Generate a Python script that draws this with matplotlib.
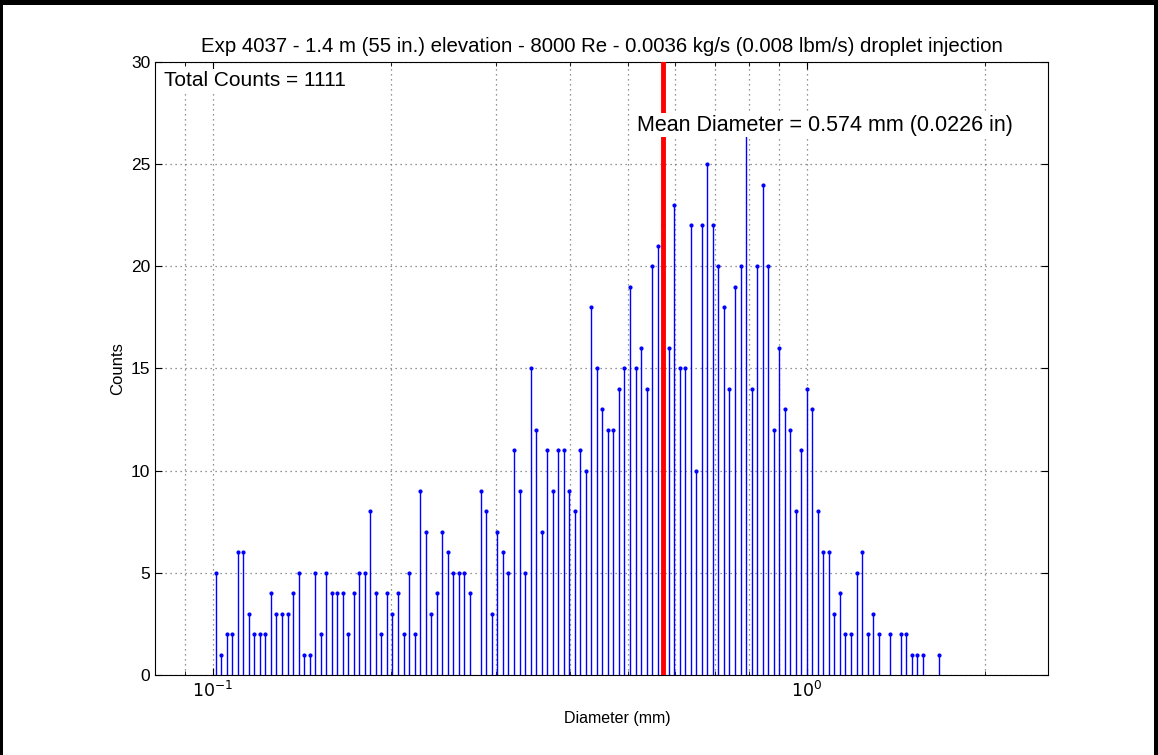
import numpy as np
import matplotlib
matplotlib.use('Agg')
import matplotlib.pyplot as plt
from matplotlib.patches import Rectangle
from matplotlib.ticker import FixedLocator, NullFormatter

plt.rcParams['font.family'] = ['Liberation Sans', 'DejaVu Sans']

# Droplet counts per (log spaced) diameter bin
counts = [
    5, 1, 2, 2, 6, 6, 3, 2, 2, 2, 4, 3, 3, 3, 4, 5, 1, 1, 5, 2, 5, 4, 4, 4, 2, 4, 5, 5,
    8, 4, 2, 4, 3, 4, 2, 5, 2, 9, 7, 3, 4, 7, 6, 5, 5, 5, 4, 0, 9, 8, 3, 7, 6, 5, 11,
    9, 5, 15, 12, 7, 11, 9, 11, 11, 9, 8, 11, 10, 18, 15, 13, 12, 12, 14, 15, 19, 15,
    16, 14, 20, 21, 22, 16, 23,
    15, 15, 22, 10, 22, 25, 22, 20, 18, 14, 19, 20, 27, 14, 20, 24, 20, 12, 16, 13, 12,
    8, 11, 14, 13, 8,
    6, 6, 3, 4, 2, 2, 5, 6, 2, 3, 2, 0, 2, 0, 2, 2, 1, 1, 1, 0, 0, 1,
]
first_diameter = 0.1012   # mm, first bin
last_diameter = 1.673     # mm, last bin
mean_diameter = 0.574     # mm
total_counts = 1111

title = ('Exp 4037 - 1.4 m (55 in.) elevation - 8000 Re - 0.0036 kg/s '
         '(0.008 lbm/s) droplet injection')

# bin centres are evenly spaced on the log axis
diam = np.geomspace(first_diameter, last_diameter, len(counts))
counts = np.array(counts)
nz = counts > 0

fig = plt.figure(figsize=(11.58, 7.55), dpi=100)
ax = fig.add_axes([0.1339, 0.106, 0.7712, 0.812])
ax.set_xscale('log')

ml, sl, bl = ax.stem(diam[nz], counts[nz], linefmt='-', markerfmt='.', basefmt=' ')
plt.setp(sl, color='blue', linewidth=1.0)
plt.setp(ml, color='blue', markersize=4)

ax.plot([mean_diameter, mean_diameter], [0, 30], color='red', linewidth=3.5, zorder=4)

ax.set_xlim(0.08, 2.55)
ax.set_ylim(0, 30)
ax.set_yticks([0, 5, 10, 15, 20, 25, 30])
ax.xaxis.set_major_locator(FixedLocator([0.1, 1.0]))
ax.set_xticklabels([r'$10^{-1}$', r'$10^{0}$'])
ax.xaxis.set_minor_locator(FixedLocator([0.09, 0.2, 0.3, 0.4, 0.5, 0.6, 0.7, 0.8, 0.9, 2.0]))
ax.xaxis.set_minor_formatter(NullFormatter())

ax.grid(True, which='both', linestyle=(0, (1, 3)), color='0.45', linewidth=0.9)
ax.set_axisbelow(True)
ax.tick_params(which='both', direction='in', top=True, right=True, labelsize=12.5)
ax.tick_params(which='major', length=5)
ax.tick_params(which='minor', length=3)

ax.text(0.0828, 29.1, 'Total Counts = %d' % total_counts, fontsize=15, va='center',
        ha='left', zorder=6, bbox=dict(facecolor='white', edgecolor='none', pad=1))
ax.text(0.518, 26.9, 'Mean Diameter = %.3f mm (%.4f in)' % (mean_diameter, mean_diameter / 25.4),
        fontsize=15.5, va='center', ha='left', zorder=6,
        bbox=dict(facecolor='white', edgecolor='none', pad=1))

ax.set_title(title, fontsize=14.7, pad=7)
ax.set_xlabel('Diameter (mm)', fontsize=11.5)
ax.xaxis.set_label_coords(0.518, -0.058)
ax.set_ylabel('Counts', fontsize=12)

# black frame around the figure
fig.add_artist(Rectangle((0, 1 - 5 / 755), 1, 5 / 755, transform=fig.transFigure,
                         facecolor='black', edgecolor='none'))
fig.add_artist(Rectangle((0, 0), 3 / 1158, 1, transform=fig.transFigure,
                         facecolor='black', edgecolor='none'))
fig.add_artist(Rectangle((1 - 4 / 1158, 0), 4 / 1158, 1, transform=fig.transFigure,
                         facecolor='black', edgecolor='none'))

fig.savefig('out.png', dpi=100)
